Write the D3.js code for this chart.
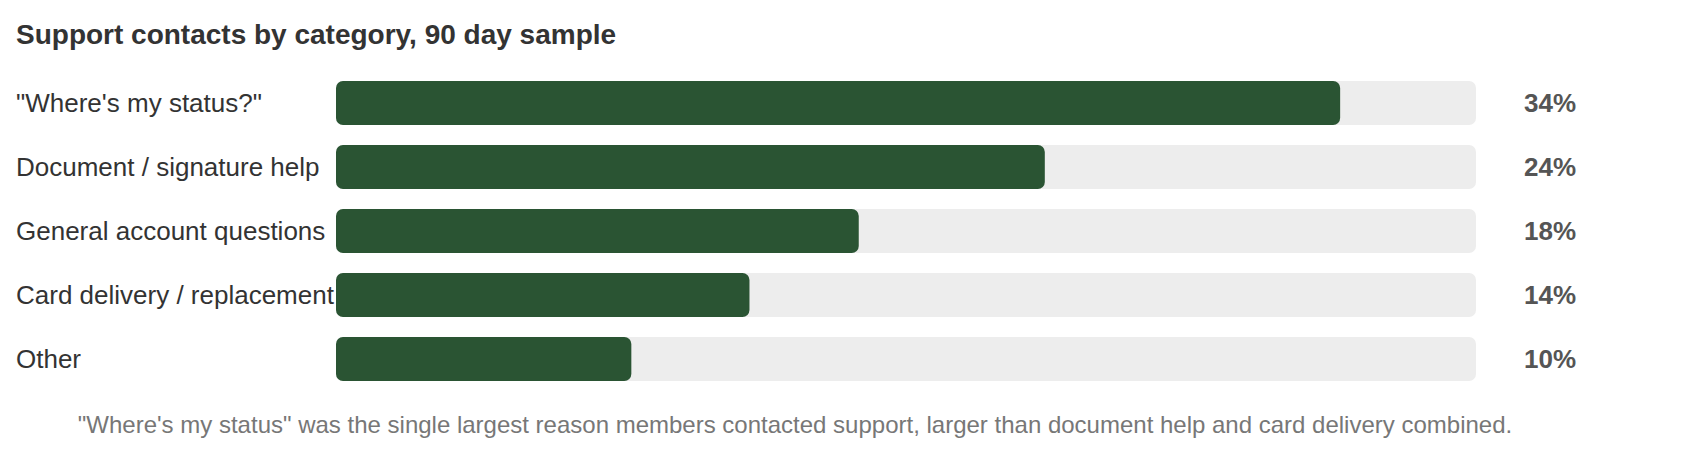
<!DOCTYPE html>
<html>
<head>
<meta charset="utf-8">
<script src="https://cdn.jsdelivr.net/npm/d3@7"></script>
<style>
  body { margin: 0; background: #fff; }
  text { font-family: Helvetica, Arial, "Liberation Sans", sans-serif; }
</style>
</head>
<body>
<div id="chart"></div>
<script>
var categories = ["\"Where's my status?\"", "Document / signature help", "General account questions", "Card delivery / replacement", "Other"];
var values = [34, 24, 17.7, 14, 10];
var valueLabels = ["34%", "24%", "18%", "14%", "10%"];
var title = "Support contacts by category, 90 day sample";
var caption = "\"Where's my status\" was the single largest reason members contacted support, larger than document help and card delivery combined.";

var width = 1700, height = 456;
var svg = d3.select("#chart")
	.append("svg")
	.attr("width", width)
	.attr("height", height);

var x = d3.scaleLinear().domain([0, 38.6]).range([336, 1476]);
var y = d3.scaleBand().domain(categories).range([71, 391]).paddingInner(0.3125).paddingOuter(0.15625);

// title
svg.append("text")
	.attr("x", 16)
	.attr("y", 44)
	.style("font-size", "28px")
	.style("font-weight", "bold")
	.style("fill", "#333")
	.text(title);

var rows = svg.selectAll("g.row")
	.data(categories)
	.enter()
	.append("g")
	.attr("class", "row");

// background track
rows.append("rect")
	.attr("x", x(0))
	.attr("y", function(d){ return y(d); })
	.attr("width", x.range()[1] - x(0))
	.attr("height", y.bandwidth())
	.attr("rx", 7)
	.style("fill", "#ededed");

// value bar
rows.append("rect")
	.attr("x", x(0))
	.attr("y", function(d){ return y(d); })
	.attr("width", function(d, i){ return x(values[i]) - x(0); })
	.attr("height", y.bandwidth())
	.attr("rx", 7)
	.style("fill", "#2a5433");

// category label
rows.append("text")
	.attr("x", 16)
	.attr("y", function(d){ return y(d) + y.bandwidth() / 2; })
	.attr("dy", "0.35em")
	.style("font-size", "26px")
	.style("fill", "#333")
	.text(function(d){ return d; });

// percent label
rows.append("text")
	.attr("x", 1524)
	.attr("y", function(d){ return y(d) + y.bandwidth() / 2; })
	.attr("dy", "0.35em")
	.style("font-size", "26px")
	.style("font-weight", "bold")
	.style("fill", "#555")
	.text(function(d, i){ return valueLabels[i]; });

// caption
svg.append("text")
	.attr("x", 795)
	.attr("y", 433)
	.attr("text-anchor", "middle")
	.style("font-size", "24px")
	.style("fill", "#777")
	.text(caption);
</script>
</body>
</html>
